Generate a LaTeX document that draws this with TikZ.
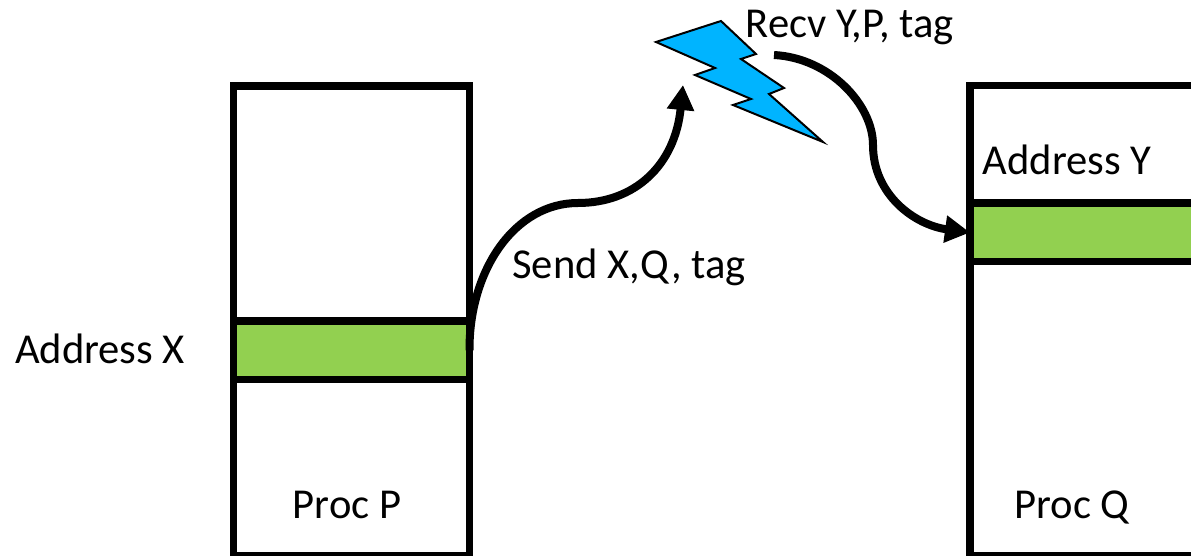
\documentclass[tikz,border=0pt]{standalone}
\usepackage{fontspec}
\setmainfont{Carlito}
\usetikzlibrary{arrows.meta}
\definecolor{CellGreen}{HTML}{92D050}
\definecolor{BoltBlue}{HTML}{00B4FF}
\tikzset{
  membox/.style={draw=black,line width=7.5bp,inner sep=0pt,outer sep=0pt,minimum width=236bp},
  memcell/.style={membox,fill=CellGreen,minimum height=58.5bp},
  lbl/.style={inner sep=0pt,font=\fontsize{42.6bp}{46bp}\selectfont},
  flow/.style={line width=8bp,-{Triangle[length=25bp,width=26bp]}}
}
\begin{document}
\begin{tikzpicture}[x=1bp,y=-1bp]
  \useasboundingbox (0,0) rectangle (1191,556);
  \clip (0,0) rectangle (1191,556);
  \node[membox,minimum height=470bp] (procP) at (351.5,321) {};
  \node[membox,minimum height=470bp] (procQ) at (1088,320.5) {};
  \node[memcell] (addrX) at (351.5,350.3) {};
  \node[memcell] (addrY) at (1088,232.5) {};
  \node[lbl] (addrXlbl) at (100,349) {Address X};
  \node[lbl] (addrYlbl) at (1067,160) {Address Y};
  \node[lbl] (procPlbl) at (347,505) {Proc P};
  \node[lbl] (procQlbl) at (1072,507) {Proc Q};
  \node[lbl] (sendlbl) at (629,267) {Send X,Q, tag};
  \node[lbl] (recvlbl) at (849.5,27) {Recv Y,P, tag};
  \draw[black,line width=2bp,fill=BoltBlue]
    (656,42) -- (721,21) -- (756,54) -- (741,59) -- (784,88) -- (769,94) -- (823,142)
    -- (733,105) -- (751,99) -- (695,75) -- (715,68) -- cycle;
  \coordinate (boltin) at (683,85);
  \coordinate (boltout) at (774,55);
  \draw[flow] (addrX.east) .. controls (469,270) and (515,203) .. (578,203)
    .. controls (635,203) and (675,165) .. (boltin);
  \draw[flow] (boltout) .. controls (830,58) and (873,105) .. (873,145)
    .. controls (873,195) and (915,225) .. (addrY.west);
\end{tikzpicture}
\end{document}
